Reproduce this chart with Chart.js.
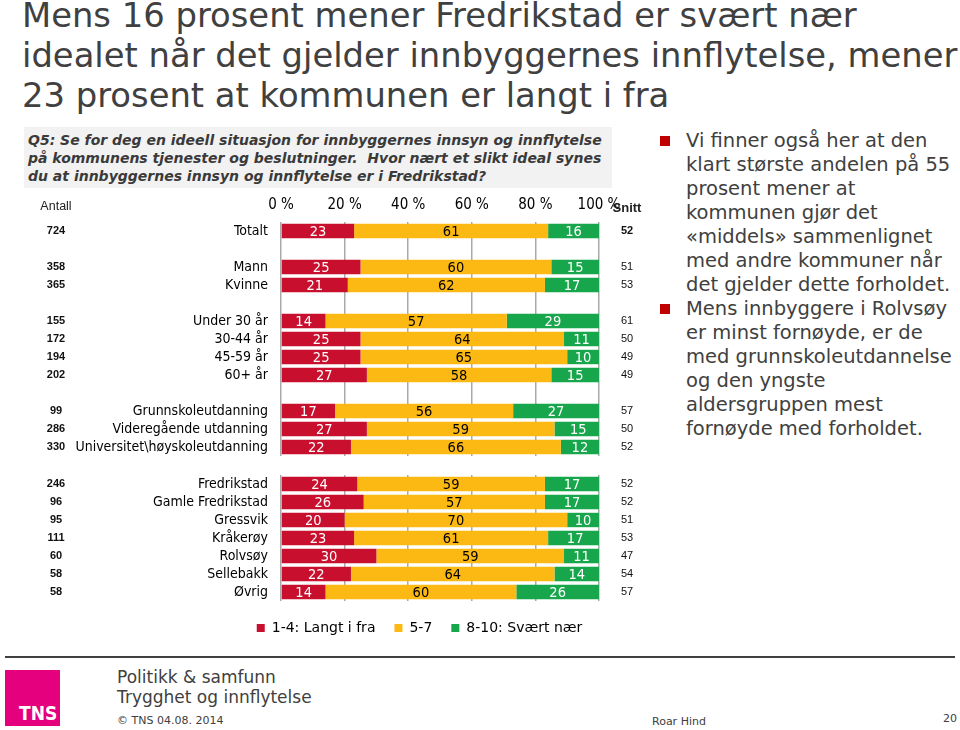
<!DOCTYPE html>
<html>
<head>
<meta charset="utf-8">
<script src="https://cdn.jsdelivr.net/npm/chart.js@4.4.1/dist/chart.umd.min.js"></script>
<style>
  html, body { margin: 0; padding: 0; }
  body { width: 960px; height: 730px; position: relative; overflow: hidden; background: #fff; font-family: 'DejaVu Sans', Verdana, sans-serif; color: #404040; }
  .abs { position: absolute; white-space: nowrap; }
  #title { left: 22px; top: -4px; font-size: 33.8px; line-height: 40px; color: #404040; }
  #qbox { left: 24px; top: 127px; width: 588px; height: 61px; background: #f2f2f2; }
  #qtext { left: 28px; top: 131px; font-size: 14px; line-height: 18px; font-weight: bold; font-style: italic; color: #3a3a3a; }
  #side { left: 686px; top: 129px; font-size: 19.5px; line-height: 24px; color: #404040; }
  .bullet { position: absolute; width: 10px; height: 10px; background: #c00000; left: 660px; }
  #rule { left: 5px; top: 656px; width: 950px; height: 2px; background: #404040; }
  #logo { left: 5px; top: 670px; width: 55px; height: 56px; background: #e5007d; }
  #logotext { left: 19px; top: 702px; font-family: 'DejaVu Sans Condensed', 'DejaVu Sans', sans-serif; font-weight: bold; font-size: 19px; color: #fff; }
  #foot1 { left: 117px; top: 667px; font-size: 17px; line-height: 20px; color: #404040; }
  .small { font-size: 11px; color: #404040; }
  canvas { position: absolute; left: 0; }
</style>
</head>
<body>
<div id="title" class="abs">Mens 16 prosent mener Fredrikstad er svært nær<br>idealet når det gjelder innbyggernes innflytelse, mener<br>23 prosent at kommunen er langt i fra</div>
<div id="qbox" class="abs"></div>
<div id="qtext" class="abs">Q5: Se for deg en ideell situasjon for innbyggernes innsyn og innflytelse<br>på kommunens tjenester og beslutninger.&nbsp; Hvor nært et slikt ideal synes<br>du at innbyggernes innsyn og innflytelse er i Fredrikstad?</div>

<div class="bullet" style="top:136px"></div>
<div class="bullet" style="top:304px"></div>
<div id="side" class="abs">Vi finner også her at den<br>klart største andelen på 55<br>prosent mener at<br>kommunen gjør det<br>«middels» sammenlignet<br>med andre kommuner når<br>det gjelder dette forholdet.<br>Mens innbyggere i Rolvsøy<br>er minst fornøyde, er de<br>med grunnskoleutdannelse<br>og den yngste<br>aldersgruppen mest<br>fornøyde med forholdet.</div>

<canvas id="topChart" width="660" height="275" style="top:185px;width:660px;height:275px"></canvas>
<canvas id="bottomChart" width="839" height="180" style="top:465px;width:839px;height:180px"></canvas>

<div id="rule" class="abs"></div>
<div id="logo" class="abs"></div>
<div id="logotext" class="abs">TNS</div>
<div id="foot1" class="abs">Politikk &amp; samfunn<br>Trygghet og innflytelse</div>
<div class="abs small" style="left:117px;top:714px">© TNS 04.08. 2014</div>
<div class="abs small" style="left:652px;top:715px">Roar Hind</div>
<div class="abs small" style="left:943px;top:712px">20</div>

<script>
// ---------- data ----------
const topCategories = ['Totalt', '', 'Mann', 'Kvinne', '', 'Under 30 år', '30-44 år', '45-59 år', '60+ år', '', 'Grunnskoleutdanning', 'Videregående utdanning', 'Universitet\\høyskoleutdanning'];
const topLangt   = [23, null, 25, 21, null, 14, 25, 25, 27, null, 17, 27, 22];
const topMiddels = [61, null, 60, 62, null, 57, 64, 65, 58, null, 56, 59, 66];
const topNaer    = [16, null, 15, 17, null, 29, 11, 10, 15, null, 27, 15, 12];
const topAntall  = [724, null, 358, 365, null, 155, 172, 194, 202, null, 99, 286, 330];
const topSnitt   = [52, null, 51, 53, null, 61, 50, 49, 49, null, 57, 50, 52];

const bottomCategories = ['Fredrikstad', 'Gamle Fredrikstad', 'Gressvik', 'Kråkerøy', 'Rolvsøy', 'Sellebakk', 'Øvrig'];
const bottomLangt   = [24, 26, 20, 23, 30, 22, 14];
const bottomMiddels = [59, 57, 70, 61, 59, 64, 60];
const bottomNaer    = [17, 17, 10, 17, 11, 14, 26];
const bottomAntall  = [246, 96, 95, 111, 60, 58, 58];
const bottomSnitt   = [52, 52, 51, 53, 47, 54, 57];

const xTickValues = [0, 20, 40, 60, 80, 100];
const seriesNames = ['1-4: Langt i fra', '5-7', '8-10: Svært nær'];

// ---------- styles ----------
const seriesColors = ['#c8102e', '#fdb913', '#17a64b'];
const valueColors = ['#ffffff', '#000000', '#ffffff'];
const COND = "'DejaVu Sans Condensed', 'DejaVu Sans', sans-serif";
const ARIAL = "'Liberation Sans', Arial, sans-serif";

function makeExtras(antall, snitt, showHeader) {
  return {
    id: 'extras',
    afterDatasetsDraw(chart) {
      const ctx = chart.ctx;
      ctx.save();
      ctx.textAlign = 'center';
      ctx.textBaseline = 'middle';
      ctx.font = '14.5px ' + COND;
      chart.data.datasets.forEach((ds, di) => {
        const meta = chart.getDatasetMeta(di);
        ctx.fillStyle = valueColors[di];
        meta.data.forEach((bar, i) => {
          const v = ds.data[i];
          if (v === null || v === undefined) return;
          const p = bar.getProps(['x', 'base', 'y'], true);
          ctx.fillText(String(v), (p.x + p.base) / 2, p.y + 1);
        });
      });
      ctx.restore();
    },
    afterDraw(chart) {
      const ctx = chart.ctx;
      const ys = chart.scales.y;
      ctx.save();
      ctx.textAlign = 'center';
      ctx.textBaseline = 'middle';
      ctx.fillStyle = '#111';
      antall.forEach((v, i) => {
        if (v === null) return;
        ctx.font = 'bold 11px ' + ARIAL;
        ctx.fillText(String(v), 56, ys.getPixelForValue(i));
      });
      snitt.forEach((v, i) => {
        if (v === null) return;
        ctx.font = (showHeader && i === 0 ? 'bold ' : '') + '11px ' + ARIAL;
        ctx.fillText(String(v), 627, ys.getPixelForValue(i));
      });
      if (showHeader) {
        const top = chart.chartArea.top;
        ctx.font = '12.5px ' + ARIAL;
        ctx.fillStyle = '#222';
        ctx.fillText('Antall', 56, top - 15);
        ctx.font = 'bold 13px ' + ARIAL;
        ctx.fillText('Snitt', 627, top - 14);
      }
      ctx.restore();
    }
  };
}

function buildChart(id, cats, langt, middels, naer, antall, snitt, cfg) {
  const series = [langt, middels, naer];
  const scales = {
    x: {
      stacked: true,
      min: 0, max: 100,
      position: cfg.xPos,
      afterBuildTicks: (s) => { s.ticks = xTickValues.map(v => ({ value: v })); },
      afterFit: (s) => { s.height = cfg.xHeight; s.paddingLeft = 0; s.paddingRight = 0; },
      ticks: {
        display: cfg.showTicks,
        callback: (v) => v + ' %',
        font: { family: COND, size: 15 },
        color: '#000',
        padding: 8,
        maxRotation: 0,
        autoSkip: false
      },
      grid: { color: '#a9a9a9', lineWidth: 1.5, drawTicks: false },
      border: { display: false }
    },
    y: {
      stacked: true,
      afterFit: (s) => { s.width = 281; s.paddingTop = 0; s.paddingBottom = 0; },
      ticks: { font: { family: COND, size: 14 }, color: '#000', padding: 13, autoSkip: false },
      grid: { display: false, drawTicks: false },
      border: { display: false }
    }
  };
  if (cfg.rightSpace) {
    // empty spacer axis on the right so the legend can be centred under the whole figure
    scales.spacer = {
      type: 'linear', axis: 'y', position: 'right', display: true,
      afterFit: (s) => { s.width = cfg.rightSpace; s.paddingTop = 0; s.paddingBottom = 0; },
      ticks: { display: false },
      grid: { display: false, drawTicks: false },
      border: { display: false }
    };
  }
  return new Chart(document.getElementById(id), {
    type: 'bar',
    data: {
      labels: cats,
      datasets: series.map((d, k) => ({
        label: seriesNames[k],
        data: d,
        backgroundColor: seriesColors[k],
        borderWidth: 0,
        barPercentage: 1,
        categoryPercentage: 0.8
      }))
    },
    options: {
      indexAxis: 'y',
      responsive: false,
      animation: false,
      devicePixelRatio: 1,
      layout: { padding: { left: 0, right: cfg.padRight, top: cfg.padTop, bottom: cfg.padBottom } },
      scales: scales,
      plugins: {
        legend: cfg.legend ? {
          display: true,
          position: 'bottom',
          labels: {
            boxWidth: 8, boxHeight: 8, padding: 19,
            font: { family: "'DejaVu Sans', sans-serif", size: 14 },
            color: '#000'
          }
        } : { display: false },
        tooltip: { enabled: false }
      }
    },
    plugins: [makeExtras(antall, snitt, cfg.header)]
  });
}

buildChart('topChart', topCategories, topLangt, topMiddels, topNaer, topAntall, topSnitt,
  { padRight: 61, padTop: 0, padBottom: 4, xPos: 'top', xHeight: 37, showTicks: true, legend: false, header: true, rightSpace: 0 });

buildChart('bottomChart', bottomCategories, bottomLangt, bottomMiddels, bottomNaer, bottomAntall, bottomSnitt,
  { padRight: 0, padTop: 10, padBottom: 0, xPos: 'bottom', xHeight: 1, showTicks: false, legend: true, header: false, rightSpace: 240 });
</script>
</body>
</html>
